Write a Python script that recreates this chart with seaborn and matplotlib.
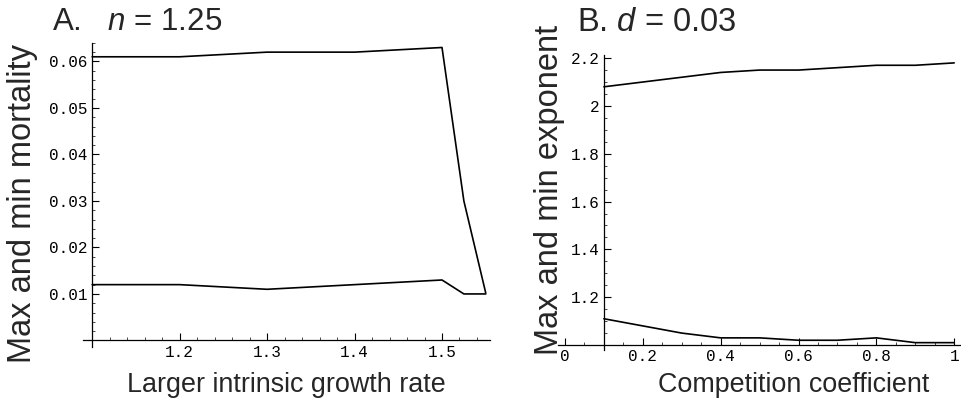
import numpy as np
import pandas as pd
import seaborn as sns
import matplotlib.pyplot as plt
from matplotlib.ticker import MultipleLocator, FixedLocator, FuncFormatter

# Panel A: growth rate vs max/min mortality
growth_rate = [1.1, 1.2, 1.3, 1.4, 1.5, 1.525, 1.55]
mortality_max = [0.061, 0.061, 0.062, 0.062, 0.063, 0.030, 0.0102]
mortality_min = [0.012, 0.012, 0.011, 0.012, 0.013, 0.010, 0.010]

# Panel B: competition coefficient vs max/min exponent
competition = [0.1, 0.2, 0.3, 0.4, 0.5, 0.6, 0.7, 0.8, 0.9, 1.0]
exponent_max = [2.08, 2.10, 2.12, 2.14, 2.15, 2.15, 2.16, 2.17, 2.17, 2.18]
exponent_min = [1.11, 1.08, 1.05, 1.03, 1.03, 1.02, 1.02, 1.03, 1.01, 1.01]

sns.set_style("white")
plt.rcParams["font.family"] = ["Liberation Sans", "DejaVu Sans"]
plt.rcParams["mathtext.fontset"] = "custom"
plt.rcParams["mathtext.it"] = "Liberation Sans:italic"
plt.rcParams["mathtext.rm"] = "Liberation Sans"

df_a = pd.DataFrame({"x": growth_rate, "hi": mortality_max, "lo": mortality_min})
df_b = pd.DataFrame({"x": competition, "hi": exponent_max, "lo": exponent_min})

fig = plt.figure(figsize=(9.61, 4.08), dpi=100)
ax1 = fig.add_axes([0.0868, 0.1485, 0.4232, 0.7465])
ax2 = fig.add_axes([0.5806, 0.1426, 0.4184, 0.7226])


def fmt(v, pos):
    return ("%g" % round(v, 4))


def style_axes(ax, x0, y0):
    for s in ["top", "right"]:
        ax.spines[s].set_visible(False)
    ax.spines["left"].set_position(("data", x0))
    ax.spines["bottom"].set_position(("data", y0))
    for s in ["left", "bottom"]:
        ax.spines[s].set_linewidth(0.9)
        ax.spines[s].set_color("black")
    ax.tick_params(which="both", bottom=True, left=True, direction="in")
    ax.tick_params(which="major", length=5, width=0.8,
                   labelsize=11.5, pad=3, colors="black")
    ax.tick_params(which="minor", length=2.5, width=0.5, colors="black")
    ax.xaxis.set_major_formatter(FuncFormatter(fmt))
    ax.yaxis.set_major_formatter(FuncFormatter(fmt))


for df, ax in [(df_a, ax1), (df_b, ax2)]:
    sns.lineplot(data=df, x="x", y="hi", ax=ax, color="black", lw=1.2,
                 estimator=None, sort=False)
    sns.lineplot(data=df, x="x", y="lo", ax=ax, color="black", lw=1.2,
                 estimator=None, sort=False)

# Panel A axes
ax1.set_xlim(1.09, 1.555)
ax1.set_ylim(-0.0015, 0.064)
ax1.xaxis.set_major_locator(FixedLocator([1.2, 1.3, 1.4, 1.5]))
ax1.xaxis.set_minor_locator(MultipleLocator(0.02))
ax1.yaxis.set_major_locator(FixedLocator([0.01, 0.02, 0.03, 0.04, 0.05, 0.06]))
ax1.yaxis.set_minor_locator(MultipleLocator(0.002))
style_axes(ax1, 1.1, 0.0)
ax1.set_xlabel("Larger intrinsic growth rate", fontsize=19.4)
ax1.xaxis.set_label_coords(0.499, -0.081)
ax1.set_ylabel("Max and min mortality", fontsize=23.5)
ax1.yaxis.set_label_coords(-0.112, 0.474)

# Panel B axes
ax2.set_xlim(-0.018, 1.015)
ax2.set_ylim(0.98, 2.213)
ax2.xaxis.set_major_locator(FixedLocator([0, 0.2, 0.4, 0.6, 0.8, 1.0]))
ax2.xaxis.set_minor_locator(MultipleLocator(0.05))
ax2.yaxis.set_major_locator(FixedLocator([1.2, 1.4, 1.6, 1.8, 2.0, 2.2]))
ax2.yaxis.set_minor_locator(MultipleLocator(0.05))
style_axes(ax2, 0.1, 1.0)
ax2.set_xlabel("Competition coefficient", fontsize=19.4)
ax2.xaxis.set_label_coords(0.587, -0.075)
ax2.set_ylabel("Max and min exponent", fontsize=23.5)
ax2.yaxis.set_label_coords(0.017, 0.542)

for ax in (ax1, ax2):
    for lab in ax.get_xticklabels() + ax.get_yticklabels():
        lab.set_family("Liberation Mono")

fig.text(0.054, 0.945, "A.   $n$ = 1.25", fontsize=22.5, va="center", ha="left")
fig.text(0.600, 0.945, "B. $d$ = 0.03", fontsize=23.5, va="center", ha="left")

plt.savefig("out.png", dpi=100)
